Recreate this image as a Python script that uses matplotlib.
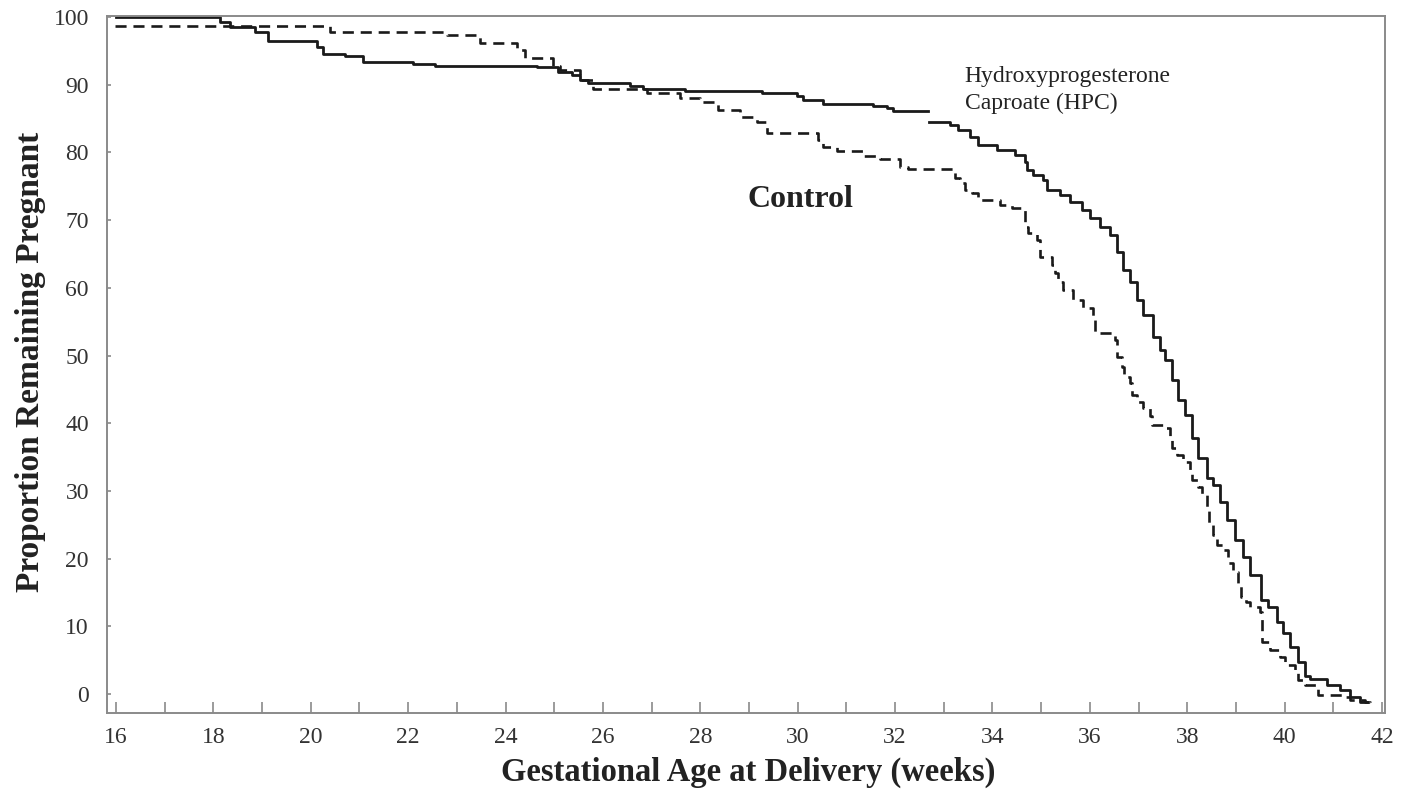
import numpy as np
import matplotlib
matplotlib.use("Agg")
import matplotlib.pyplot as plt
from matplotlib.ticker import MultipleLocator

# ---- data ----
# Hydroxyprogesterone caproate (HPC) arm: step times (weeks) and % remaining pregnant
hpc_weeks_a = [16.0, 18.14, 18.34, 18.85, 19.12, 20.13, 20.25, 20.70, 21.07, 22.10,
               22.55, 24.64, 25.08, 25.36, 25.53, 25.69, 26.55, 26.82, 27.68, 29.27,
               29.98, 30.11, 30.52, 31.54, 31.83, 31.95, 32.67]
hpc_pct_a = [100.0, 99.3, 98.5, 97.8, 96.5, 95.6, 94.5, 94.2, 93.4, 93.1,
             92.8, 92.6, 91.95, 91.4, 90.7, 90.3, 89.8, 89.4, 89.1, 88.8,
             88.3, 87.7, 87.1, 86.9, 86.6, 86.1, 86.1]
hpc_weeks_b = [32.70, 33.13, 33.29, 33.54, 33.70, 34.09, 34.46, 34.67, 34.71, 34.83,
               35.03, 35.12, 35.38, 35.59, 35.84, 36.00, 36.21, 36.41, 36.55, 36.68,
               36.82, 36.97, 37.09, 37.29, 37.44, 37.54, 37.68, 37.81, 37.95, 38.09,
               38.22, 38.40, 38.53, 38.67, 38.81, 38.98, 39.14, 39.29, 39.52, 39.65,
               39.84, 39.96, 40.11, 40.27, 40.41, 40.52, 40.87, 41.13, 41.34, 41.54,
               41.69]
hpc_pct_b = [84.5, 84.0, 83.3, 82.3, 81.1, 80.4, 79.6, 78.6, 77.4, 76.7,
             75.9, 74.4, 73.7, 72.7, 71.5, 70.3, 69.0, 67.8, 65.3, 62.6,
             60.9, 58.2, 56.0, 52.8, 50.8, 49.3, 46.4, 43.4, 41.2, 37.8,
             34.9, 31.9, 30.9, 28.4, 25.7, 22.7, 20.2, 17.6, 13.9, 12.9,
             10.6, 9.0, 6.9, 4.7, 2.7, 2.2, 1.3, 0.6, -0.4, -1.2,
             -1.2]

# Control arm
ctl_weeks = [15.98, 20.39, 22.80, 23.47, 24.23, 24.40, 24.97, 25.12, 25.53, 25.79,
             26.90, 27.58, 27.99, 28.36, 28.81, 29.16, 29.37, 30.41, 30.52, 30.80,
             31.34, 31.69, 32.10, 32.26, 33.23, 33.33, 33.43, 33.58, 33.70, 34.15,
             34.40, 34.67, 34.73, 34.91, 34.97, 35.22, 35.28, 35.34, 35.45, 35.65,
             35.86, 36.06, 36.10, 36.51, 36.55, 36.66, 36.70, 36.82, 36.86, 36.97,
             37.09, 37.23, 37.27, 37.50, 37.64, 37.68, 37.79, 37.91, 38.05, 38.09,
             38.22, 38.30, 38.40, 38.45, 38.53, 38.61, 38.73, 38.83, 38.94, 39.04,
             39.11, 39.20, 39.29, 39.49, 39.53, 39.70, 39.90, 40.00, 40.21, 40.27,
             40.41, 40.66, 40.68, 41.19, 41.34, 41.65, 41.75, 41.85]
ctl_pct = [98.7, 97.8, 97.3, 96.1, 95.2, 94.0, 92.7, 92.2, 90.7, 89.4,
           88.8, 88.0, 87.5, 86.3, 85.3, 84.5, 82.9, 81.8, 80.8, 80.2,
           79.4, 79.1, 77.9, 77.6, 76.2, 75.5, 74.4, 74.0, 73.0, 72.2,
           71.8, 69.0, 68.1, 67.1, 64.6, 63.4, 62.2, 60.9, 59.7, 58.2,
           57.0, 55.7, 53.3, 52.3, 49.8, 48.3, 46.8, 45.9, 44.2, 43.1,
           42.2, 41.0, 39.7, 39.3, 38.0, 36.3, 35.3, 34.3, 33.1, 31.6,
           30.6, 29.4, 27.6, 25.3, 23.5, 22.0, 21.3, 19.3, 18.0, 16.4,
           14.3, 13.6, 12.9, 12.1, 7.7, 6.5, 5.5, 4.3, 3.5, 2.1,
           1.3, 1.0, -0.1, -0.4, -0.9, -1.2, -1.4, -1.4]

x_major = list(range(16, 43, 2))
y_major = list(range(0, 101, 10))

# ---- figure ----
plt.rcParams['font.family'] = ['Liberation Serif', 'DejaVu Serif']
fig = plt.figure(figsize=(14.06, 7.93), dpi=100)
ax = fig.add_axes([0.0761, 0.1009, 0.9089, 0.8789])

line_col = '#1a1a1a'
ax.step(hpc_weeks_a, hpc_pct_a, where='post', color=line_col, lw=2.0)
ax.step(hpc_weeks_b, hpc_pct_b, where='post', color=line_col, lw=2.0)
ax.step(ctl_weeks, ctl_pct, where='post', color=line_col, lw=1.9,
        linestyle=(0, (4.2, 2.6)))

ax.set_xlim(15.815, 42.06)
ax.set_ylim(-2.8, 100.15)

ax.set_xticks(x_major)
ax.xaxis.set_minor_locator(MultipleLocator(1))
ax.set_yticks(y_major)

spine_col = '#8a8a8a'
for s in ax.spines.values():
    s.set_color(spine_col)
    s.set_linewidth(1.4)

ax.tick_params(axis='x', which='both', direction='in', length=8, width=1.2,
               color=spine_col, labelsize=17, labelcolor='#333333', pad=10)
ax.tick_params(axis='y', which='major', direction='in', length=3, width=1.2,
               color=spine_col, labelsize=17, labelcolor='#333333', pad=13)

ax.set_xlabel('Gestational Age at Delivery (weeks)', fontsize=23.5,
              fontweight='bold', color='#222222', va='center')
ax.xaxis.set_label_coords(0.502, -0.085)
ax.set_ylabel('Proportion Remaining Pregnant', fontsize=24,
              fontweight='bold', color='#222222', va='center')
ax.yaxis.set_label_coords(-0.0595, 0.504)

ax.text(30.05, 73.0, 'Control', fontsize=23, fontweight='bold',
        ha='center', va='center', color='#222222')
ax.text(33.43, 89.2, 'Hydroxyprogesterone\nCaproate (HPC)', fontsize=17,
        ha='left', va='center', color='#222222', linespacing=1.38)

fig.savefig('out.png', dpi=100)
